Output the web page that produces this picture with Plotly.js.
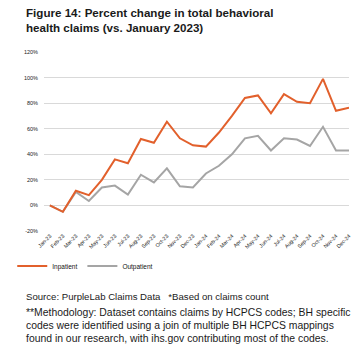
<!DOCTYPE html>
<html><head><meta charset="utf-8">
<script src="https://cdn.plot.ly/plotly-3.0.1.min.js"></script>
<style>html,body{margin:0;padding:0;background:#fff}#chart{width:361px;height:348px}</style>
</head><body><div id="chart"></div>
<script>
const months = ["Jan-23","Feb-23","Mar-23","Apr-23","May-23","Jun-23","Jul-23","Aug-23","Sep-23","Oct-23","Nov-23","Dec-23",
                "Jan-24","Feb-24","Mar-24","Apr-24","May-24","Jun-24","Jul-24","Aug-24","Sep-24","Oct-24","Nov-24","Dec-24"];
const inpatient  = [0,-5,11.5,8,20,36,33,52,49,65.5,52.5,47,46,57,70,84,86,72,87,81,80,99,74,76.5];
const outpatient = [0,-5,10.5,3.5,14,15.5,8.5,24,18,29,15,14,25,31,40,52.5,54.5,43,52.5,51.5,46.5,61.5,43,43];
const yTicks = [-20,0,20,40,60,80,100,120];
const yTickLabels = yTicks.map(v => v + "%");
const titleText = "Figure 14: Percent change in total behavioral<br>health claims (vs. January 2023)";
const footLines = ["Source: PurpleLab Claims Data   *Based on claims count",
  "**Methodology: Dataset contains claims by HCPCS codes; BH specific",
  "codes were identified using a join of multiple BH HCPCS mappings",
  "found in our research, with ihs.gov contributing most of the codes."];

const L = 32, R = 349, T = 52, B = 231, W = 361, H = 348;
const pw = R - L, ph = B - T;
const px = x => (x - L) / pw;
const py = y => (B - y) / ph;

const traces = [
  {x: months, y: outpatient, name: "Outpatient", type: "scatter", mode: "lines",
   line: {color: "#a5a5a5", width: 2}},
  {x: months, y: inpatient, name: "Inpatient", type: "scatter", mode: "lines",
   line: {color: "#e2602c", width: 2}}
];

const font = "Arial, 'Liberation Sans', sans-serif";
const annotations = [
  {text: "<b>" + titleText + "</b>", xref: "paper", yref: "paper", x: px(11), y: py(20),
   xanchor: "left", yanchor: "middle", align: "left", showarrow: false,
   font: {family: font, size: 11.6, color: "#1a1a1a"}}
];
const footY = [296, 312, 325, 338];
const footSize = [9.6, 10.4, 10.4, 10.4];
footLines.forEach((t, i) => annotations.push({text: t, xref: "paper", yref: "paper", x: px(11), y: py(footY[i]),
  xanchor: "left", yanchor: "middle", align: "left", showarrow: false,
  font: {family: font, size: footSize[i], color: "#1a1a1a"}}));

const layout = {
  width: W, height: H,
  margin: {l: L, r: W - R, t: T, b: H - B, pad: 0},
  paper_bgcolor: "#fff", plot_bgcolor: "#fff",
  showlegend: true,
  legend: {orientation: "h", x: px(-1), y: py(266), xanchor: "left", yanchor: "middle",
    traceorder: "reversed", font: {family: font, size: 6.5, color: "#111"},
    itemwidth: 30, tracegroupgap: 0, bgcolor: "rgba(0,0,0,0)"},
  xaxis: {type: "category", range: [-0.45, 23], showgrid: false, zeroline: false, showline: false,
    ticks: "", tickangle: -45, tickfont: {family: font, size: 5.3, color: "#111"}, automargin: false, fixedrange: true},
  yaxis: {range: [-20, 120], tickvals: yTicks, ticktext: yTickLabels, showgrid: true, gridcolor: "#d9d9d9", gridwidth: 1,
    zeroline: false, showline: false, ticks: "", ticklabelstandoff: 5,
    tickfont: {family: font, size: 5.5, color: "#222"}, automargin: false, fixedrange: true},
  annotations: annotations
};
Plotly.newPlot("chart", traces, layout, {displayModeBar: false, staticPlot: true});
</script></body></html>
